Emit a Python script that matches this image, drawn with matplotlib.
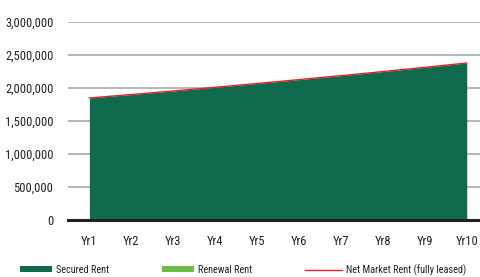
import matplotlib
matplotlib.use("Agg")
import matplotlib.pyplot as plt
from matplotlib.patches import Patch
from matplotlib.lines import Line2D
from matplotlib.ticker import FuncFormatter
import numpy as np

years = ["Yr1", "Yr2", "Yr3", "Yr4", "Yr5", "Yr6", "Yr7", "Yr8", "Yr9", "Yr10"]
secured_rent = [1849000, 1901000, 1955000, 2011000, 2068000, 2127000, 2187000, 2249000, 2313000, 2379000]
renewal_rent = [0, 0, 0, 0, 0, 0, 0, 0, 0, 0]
net_market_rent = [1849000, 1901000, 1955000, 2011000, 2068000, 2127000, 2187000, 2249000, 2313000, 2379000]
y_ticks = [0, 500000, 1000000, 1500000, 2000000, 2500000, 3000000]

plt.rcParams['font.family'] = ['Roboto Condensed', 'DejaVu Sans']
plt.rcParams['font.stretch'] = 'condensed'
FS = 9.0
LFS = 7.4

W, H = 481, 277
fig = plt.figure(figsize=(W / 100, H / 100), dpi=100)
ax = fig.add_axes([68 / W, (H - 220) / H, (W - 68) / W, (220 - 22) / H])

x = np.arange(len(years))
sec = np.array(secured_rent)
ren = np.array(renewal_rent)
green = "#106A4E"
light = "#6CBE45"
red = "#E8202A"
text_col = "#231F20"

ax.fill_between(x, 0, sec, color=green, lw=0, zorder=2)
ax.fill_between(x, sec, sec + ren, color=light, lw=0, zorder=2)
ax.plot(x, net_market_rent, color=red, lw=1.0, zorder=3)

ax.set_xlim(-0.51, 9.34)
ax.set_ylim(0, 3000000)
ax.set_yticks(y_ticks)
ax.yaxis.set_major_formatter(FuncFormatter(lambda v, p: f"{int(v):,}"))
ax.set_xticks(x)
ax.set_xticklabels(years)
for s in ax.spines.values():
    s.set_visible(False)
ax.tick_params(axis='both', length=0, labelsize=FS, colors=text_col)
ax.tick_params(axis='y', pad=10.5)
ax.tick_params(axis='x', pad=10.5)
for v in y_ticks[1:]:
    ax.axhline(v, color="#A8ABAE", lw=1.2, zorder=1)
ax.axhline(0, color=text_col, lw=2.2, zorder=4, clip_on=False)

entries = [
    (Patch(facecolor=green, edgecolor='none'), "Secured Rent", 20, 3.15),
    (Patch(facecolor=light, edgecolor='none'), "Renewal Rent", 162, 3.15),
    (Line2D([0], [0], color=red, lw=1.0), "Net Market Rent (fully leased)", 305, 3.6),
]
for h, lab, px, hl in entries:
    leg = fig.legend([h], [lab], loc='center left', bbox_to_anchor=(px / W, 1 - 270 / H),
                     frameon=False, fontsize=LFS, handlelength=hl, handleheight=0.5,
                     handletextpad=0.35, borderaxespad=0, borderpad=0)
    for t in leg.get_texts():
        t.set_color(text_col)

fig.savefig("out.png", dpi=100)
